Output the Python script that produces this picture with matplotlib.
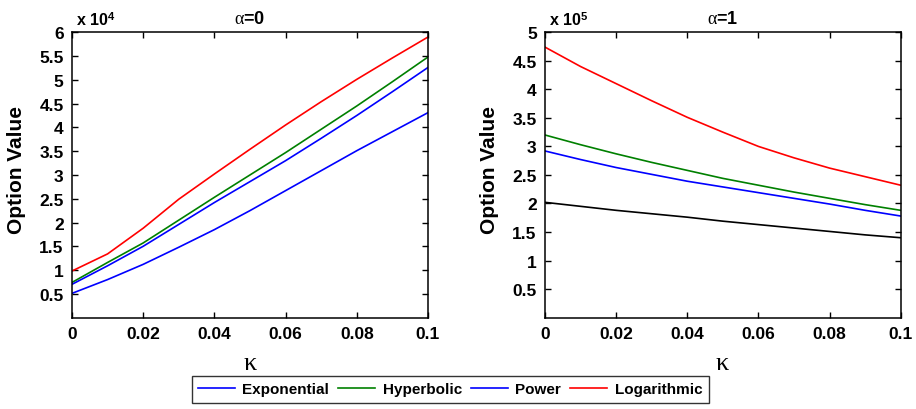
import matplotlib
matplotlib.use("Agg")
import matplotlib.pyplot as plt

plt.rcParams['font.family'] = ['Liberation Sans', 'DejaVu Sans']
plt.rcParams['mathtext.fontset'] = 'custom'
plt.rcParams['mathtext.rm'] = 'Liberation Serif'
plt.rcParams['mathtext.it'] = 'Liberation Serif:italic'
plt.rcParams['mathtext.bf'] = 'Liberation Sans:bold'

# kappa grid
kappa = [0, 0.01, 0.02, 0.03, 0.04, 0.05, 0.06, 0.07, 0.08, 0.09, 0.1]

# alpha = 0, values in units of 10^4
exp_a0 = [0.51, 0.80, 1.12, 1.48, 1.85, 2.25, 2.67, 3.09, 3.51, 3.91, 4.31]
hyp_a0 = [0.74, 1.16, 1.57, 2.05, 2.53, 3.00, 3.47, 3.96, 4.45, 4.96, 5.48]
pow_a0 = [0.70, 1.09, 1.50, 1.96, 2.42, 2.86, 3.30, 3.77, 4.25, 4.75, 5.26]
log_a0 = [0.98, 1.34, 1.88, 2.49, 3.02, 3.54, 4.05, 4.54, 5.01, 5.46, 5.90]

# alpha = 1, values in units of 10^5
exp_a1 = [2.02, 1.95, 1.88, 1.82, 1.76, 1.69, 1.63, 1.57, 1.51, 1.45, 1.40]
hyp_a1 = [3.20, 3.03, 2.87, 2.72, 2.58, 2.44, 2.32, 2.20, 2.09, 1.98, 1.88]
pow_a1 = [2.92, 2.77, 2.63, 2.51, 2.39, 2.29, 2.19, 2.09, 1.99, 1.88, 1.78]
log_a1 = [4.74, 4.40, 4.10, 3.80, 3.51, 3.25, 3.00, 2.80, 2.62, 2.47, 2.32]

labels = ['Exponential', 'Hyperbolic', 'Power', 'Logarithmic']
xticks = [0, 0.02, 0.04, 0.06, 0.08, 0.1]
xticklabels = ['0', '0.02', '0.04', '0.06', '0.08', '0.1']

fig = plt.figure(figsize=(9.16, 4.10), dpi=100)
ax1 = fig.add_axes([0.0786, 0.2229, 0.3886, 0.6959])
ax2 = fig.add_axes([0.5950, 0.2229, 0.3883, 0.6959])

lw = 1.2
ax1.plot(kappa, exp_a0, color='#0000ff', lw=lw, label=labels[0])
ax1.plot(kappa, hyp_a0, color='#008000', lw=lw, label=labels[1])
ax1.plot(kappa, pow_a0, color='#0000ff', lw=lw, label=labels[2])
ax1.plot(kappa, log_a0, color='#ff0000', lw=lw, label=labels[3])

ax2.plot(kappa, exp_a1, color='#000000', lw=lw)
ax2.plot(kappa, hyp_a1, color='#008000', lw=lw)
ax2.plot(kappa, pow_a1, color='#0000ff', lw=lw)
ax2.plot(kappa, log_a1, color='#ff0000', lw=lw)

def style(ax, ymax, title, exponent):
    ax.set_xlim(0, 0.1)
    ax.set_ylim(0, ymax)
    ax.set_xticks(xticks)
    ax.set_xticklabels(xticklabels)
    yt = [0.5 * i for i in range(1, int(ymax * 2) + 1)]
    ax.set_yticks(yt)
    ax.set_yticklabels(['%g' % v for v in yt])
    ax.tick_params(direction='in', top=True, right=True, length=4, width=1,
                   labelsize=12.5, pad=6)
    for lab in ax.get_xticklabels() + ax.get_yticklabels():
        lab.set_fontweight('bold')
    for s in ax.spines.values():
        s.set_linewidth(1.1)
    ax.set_title(r'$\mathrm{\alpha}$=' + title, fontsize=13, fontweight='bold', pad=7)
    ax.set_ylabel('Option Value', fontsize=15, fontweight='bold')
    ax.yaxis.set_label_coords(-0.128, 0.52)
    ax.set_xlabel(r'$\mathrm{\kappa}$', fontsize=19)
    ax.xaxis.set_label_coords(0.5, -0.115)
    ax.text(0.01, 1.015, r'x 10$^{\mathbf{%d}}$' % exponent, transform=ax.transAxes,
            fontsize=11.5, fontweight='bold', ha='left', va='bottom')

style(ax1, 6, '0', 4)
style(ax2, 5, '1', 5)

leg = fig.legend(*ax1.get_legend_handles_labels(), loc='lower center',
                 bbox_to_anchor=(0.4915, -0.003), ncol=4, frameon=True,
                 fancybox=False, edgecolor='black', prop={'weight': 'bold', 'size': 11},
                 handlelength=2.4, columnspacing=0.6, handletextpad=0.5,
                 borderpad=0.42)
leg.get_frame().set_linewidth(1.0)

fig.savefig('out.png', dpi=100)
